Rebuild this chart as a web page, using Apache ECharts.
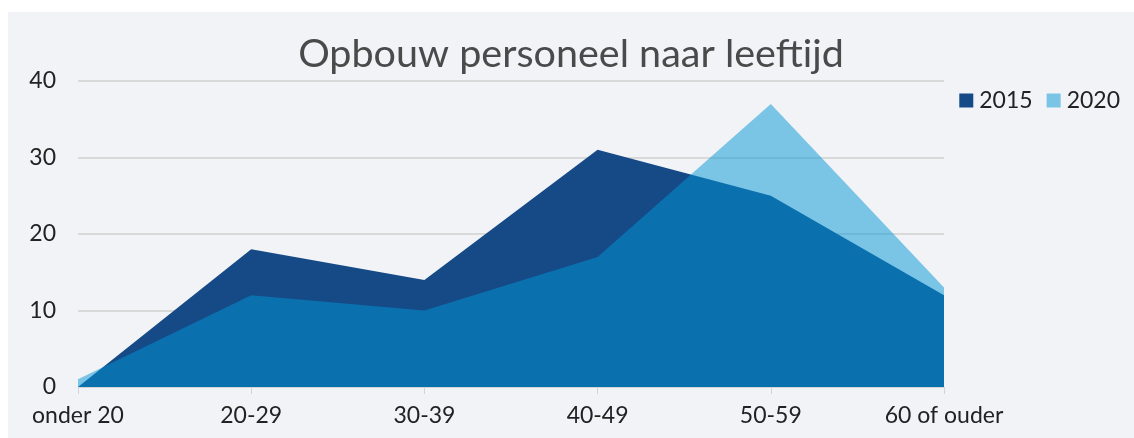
<!DOCTYPE html>
<html>
<head>
<meta charset="utf-8">
<script src="https://cdn.jsdelivr.net/npm/echarts@6/dist/echarts.min.js"></script>
<style>
    html, body { margin: 0; padding: 0; background: #ffffff; }
    #chart { position: absolute; left: 8px; top: 12px; width: 1126px; height: 426px; background: #f2f3f7; }
</style>
</head>
<body>
<div id="chart"></div>
<script>
var categories = ['onder 20', '20-29', '30-39', '40-49', '50-59', '60 of ouder'];
var data2015 = [0, 18, 14, 31, 25, 12];
var data2020 = [1, 12, 10, 17, 37, 13];
var yTicks = [0, 10, 20, 30, 40];

var font = 'Lato, "Noto Sans", sans-serif';

var chart = echarts.init(document.getElementById('chart'));
var option = {
    animation: false,
    title: {
        text: 'Opbouw personeel naar leeftijd',
        left: 'center',
        top: 17,
        textStyle: { color: '#4a4a4a', fontSize: 39.5, fontWeight: 'normal', fontFamily: font }
    },
    legend: {
        right: 9,
        top: 72,
        itemWidth: 14,
        itemHeight: 14,
        itemGap: 14,
        icon: 'rect',
        textStyle: { color: '#222', fontSize: 23, fontFamily: font, padding: [0, 0, 0, 1] },
        data: ['2015', '2020']
    },
    grid: { left: 70, right: 190, top: 69, bottom: 51 },
    xAxis: {
        type: 'category',
        boundaryGap: false,
        data: categories,
        axisLine: { lineStyle: { color: '#d4d4d4', width: 1 } },
        axisTick: { show: true, alignWithLabel: true, length: 7, lineStyle: { color: '#d4d4d4' } },
        axisLabel: { color: '#222', fontSize: 23, fontFamily: font, margin: 17, interval: 0 }
    },
    yAxis: {
        type: 'value',
        min: yTicks[0],
        max: yTicks[yTicks.length - 1],
        interval: 10,
        axisLine: { show: false },
        axisTick: { show: false },
        axisLabel: { color: '#222', fontSize: 23, fontFamily: font, margin: 22 },
        splitLine: { lineStyle: { color: '#d9d9d9', width: 2 } }
    },
    series: [{
        name: '2015',
        type: 'line',
        data: data2015,
        symbol: 'none',
        lineStyle: { width: 0 },
        itemStyle: { color: '#154a87' },
        areaStyle: { color: '#154a87', opacity: 1 }
    }, {
        name: '2020',
        type: 'line',
        data: data2020,
        symbol: 'none',
        lineStyle: { width: 0 },
        itemStyle: { color: '#7ac4e6' },
        areaStyle: { color: '#0295d5', opacity: 0.5 }
    }]
};
chart.setOption(option);
</script>
</body>
</html>
